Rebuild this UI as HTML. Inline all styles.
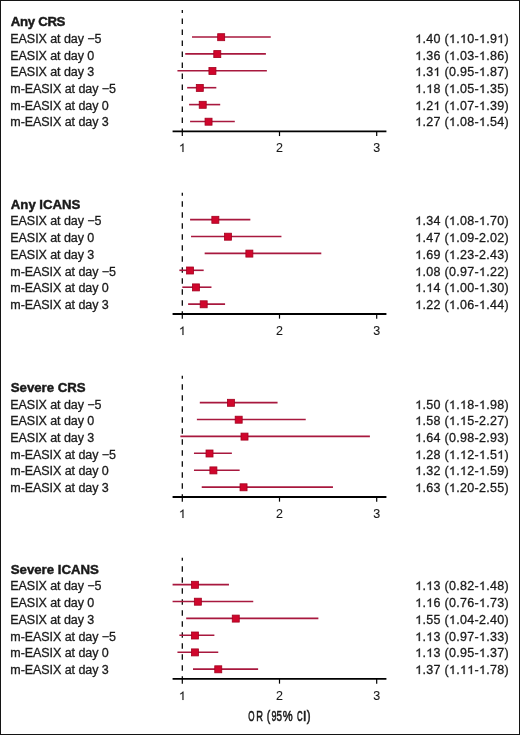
<!DOCTYPE html>
<html><head><meta charset="utf-8"><style>
html,body{margin:0;padding:0;background:#fff;}
body{width:520px;height:735px;overflow:hidden;}
svg{display:block;will-change:transform;}
text{font-family:"Liberation Sans",sans-serif;font-kerning:none;fill:#1a1a1a;stroke:#1a1a1a;stroke-width:0.3px;}
.l{font-size:12.5px;letter-spacing:-0.06px;}
.t{font-size:13.2px;font-weight:bold;stroke-width:0.45px;}
.n{font-size:12.5px;letter-spacing:0.3px;}
.o{fill:#1a1a1a;stroke:#1a1a1a;stroke-width:49.2;}
.h{fill:transparent;stroke:none;}
.k{stroke-width:0.1px;}
.ok{stroke-width:16.4;}
.or{font-size:15.5px;stroke-width:0.5px;vector-effect:non-scaling-stroke;}
</style></head><body>
<svg width="520" height="735" viewBox="0 0 520 735">
<defs><path id="one" d="M763 0H583V1098Q518 1038 413 979Q307 920 223 890V1057Q374 1124 487 1221Q600 1318 647 1409H763Z"/></defs>
<rect x="0.5" y="0.5" width="519" height="734" fill="#fff" stroke="#141414" stroke-width="1"/>

<text class="t" x="10.8" y="26.15" style="letter-spacing:-0.3px">Any CRS</text>
<line x1="182.30" y1="10.10" x2="182.30" y2="131.25" stroke="#000" stroke-width="1.25" stroke-dasharray="5.5 5.5" stroke-dashoffset="2.5"/>
<line x1="192.02" y1="37.00" x2="270.75" y2="37.00" stroke="#a8183e" stroke-width="1.6"/>
<rect x="217.68" y="33.70" width="7.00" height="7.00" fill="#d0062c" stroke="#a3001f" stroke-width="0.8"/>
<text class="l" x="10.3" y="43.00">EASIX at day −5</text>
<text class="n" x="415.2" y="43.00"><tspan class="h">1</tspan>.40 (<tspan class="h">1</tspan>.<tspan class="h">1</tspan>0-<tspan class="h">1</tspan>.9<tspan class="h">1</tspan>)</text>
<line x1="185.22" y1="53.90" x2="265.89" y2="53.90" stroke="#a8183e" stroke-width="1.6"/>
<rect x="213.79" y="50.60" width="7.00" height="7.00" fill="#d0062c" stroke="#a3001f" stroke-width="0.8"/>
<text class="l" x="10.3" y="60.00">EASIX at day 0</text>
<text class="n" x="415.2" y="60.00"><tspan class="h">1</tspan>.36 (<tspan class="h">1</tspan>.03-<tspan class="h">1</tspan>.86)</text>
<line x1="177.44" y1="70.80" x2="266.86" y2="70.80" stroke="#a8183e" stroke-width="1.6"/>
<rect x="208.93" y="67.50" width="7.00" height="7.00" fill="#d0062c" stroke="#a3001f" stroke-width="0.8"/>
<text class="l" x="10.3" y="76.00">EASIX at day 3</text>
<text class="n" x="415.2" y="76.00"><tspan class="h">1</tspan>.3<tspan class="h">1</tspan> (0.95-<tspan class="h">1</tspan>.87)</text>
<line x1="187.16" y1="87.70" x2="216.32" y2="87.70" stroke="#a8183e" stroke-width="1.6"/>
<rect x="196.30" y="84.40" width="7.00" height="7.00" fill="#d0062c" stroke="#a3001f" stroke-width="0.8"/>
<text class="l" x="10.3" y="93.00">m-EASIX at day −5</text>
<text class="n" x="415.2" y="93.00"><tspan class="h">1</tspan>.<tspan class="h">1</tspan>8 (<tspan class="h">1</tspan>.05-<tspan class="h">1</tspan>.35)</text>
<line x1="189.10" y1="104.60" x2="220.21" y2="104.60" stroke="#a8183e" stroke-width="1.6"/>
<rect x="199.21" y="101.30" width="7.00" height="7.00" fill="#d0062c" stroke="#a3001f" stroke-width="0.8"/>
<text class="l" x="10.3" y="110.00">m-EASIX at day 0</text>
<text class="n" x="415.2" y="110.00"><tspan class="h">1</tspan>.2<tspan class="h">1</tspan> (<tspan class="h">1</tspan>.07-<tspan class="h">1</tspan>.39)</text>
<line x1="190.08" y1="121.50" x2="234.79" y2="121.50" stroke="#a8183e" stroke-width="1.6"/>
<rect x="205.04" y="118.20" width="7.00" height="7.00" fill="#d0062c" stroke="#a3001f" stroke-width="0.8"/>
<text class="l" x="10.3" y="126.00">m-EASIX at day 3</text>
<text class="n" x="415.2" y="126.00"><tspan class="h">1</tspan>.27 (<tspan class="h">1</tspan>.08-<tspan class="h">1</tspan>.54)</text>
<line x1="172.58" y1="131.40" x2="386.42" y2="131.40" stroke="#000" stroke-width="1.9"/>
<line x1="182.30" y1="131.40" x2="182.30" y2="136.05" stroke="#000" stroke-width="1.2"/>
<text class="l k" x="182.30" y="152.25" text-anchor="middle"><tspan class="h">1</tspan></text>
<line x1="279.50" y1="131.40" x2="279.50" y2="136.05" stroke="#000" stroke-width="1.2"/>
<text class="l k" x="279.50" y="152.25" text-anchor="middle">2</text>
<line x1="376.70" y1="131.40" x2="376.70" y2="136.05" stroke="#000" stroke-width="1.2"/>
<text class="l k" x="376.70" y="152.25" text-anchor="middle">3</text>
<text class="t" x="10.8" y="208.75" style="letter-spacing:0px">Any ICANS</text>
<line x1="182.30" y1="192.70" x2="182.30" y2="313.85" stroke="#000" stroke-width="1.25" stroke-dasharray="5.5 5.5" stroke-dashoffset="2.5"/>
<line x1="190.08" y1="219.60" x2="250.34" y2="219.60" stroke="#a8183e" stroke-width="1.6"/>
<rect x="211.85" y="216.30" width="7.00" height="7.00" fill="#d0062c" stroke="#a3001f" stroke-width="0.8"/>
<text class="l" x="10.3" y="225.00">EASIX at day −5</text>
<text class="n" x="415.2" y="225.00"><tspan class="h">1</tspan>.34 (<tspan class="h">1</tspan>.08-<tspan class="h">1</tspan>.70)</text>
<line x1="191.05" y1="236.50" x2="281.44" y2="236.50" stroke="#a8183e" stroke-width="1.6"/>
<rect x="224.48" y="233.20" width="7.00" height="7.00" fill="#d0062c" stroke="#a3001f" stroke-width="0.8"/>
<text class="l" x="10.3" y="242.00">EASIX at day 0</text>
<text class="n" x="415.2" y="242.00"><tspan class="h">1</tspan>.47 (<tspan class="h">1</tspan>.09-2.02)</text>
<line x1="204.66" y1="253.40" x2="321.30" y2="253.40" stroke="#a8183e" stroke-width="1.6"/>
<rect x="245.87" y="250.10" width="7.00" height="7.00" fill="#d0062c" stroke="#a3001f" stroke-width="0.8"/>
<text class="l" x="10.3" y="259.00">EASIX at day 3</text>
<text class="n" x="415.2" y="259.00"><tspan class="h">1</tspan>.69 (<tspan class="h">1</tspan>.23-2.43)</text>
<line x1="179.38" y1="270.30" x2="203.68" y2="270.30" stroke="#a8183e" stroke-width="1.6"/>
<rect x="186.58" y="267.00" width="7.00" height="7.00" fill="#d0062c" stroke="#a3001f" stroke-width="0.8"/>
<text class="l" x="10.3" y="276.00">m-EASIX at day −5</text>
<text class="n" x="415.2" y="276.00"><tspan class="h">1</tspan>.08 (0.97-<tspan class="h">1</tspan>.22)</text>
<line x1="182.30" y1="287.20" x2="211.46" y2="287.20" stroke="#a8183e" stroke-width="1.6"/>
<rect x="192.41" y="283.90" width="7.00" height="7.00" fill="#d0062c" stroke="#a3001f" stroke-width="0.8"/>
<text class="l" x="10.3" y="292.00">m-EASIX at day 0</text>
<text class="n" x="415.2" y="292.00"><tspan class="h">1</tspan>.<tspan class="h">1</tspan>4 (<tspan class="h">1</tspan>.00-<tspan class="h">1</tspan>.30)</text>
<line x1="188.13" y1="304.10" x2="225.07" y2="304.10" stroke="#a8183e" stroke-width="1.6"/>
<rect x="200.18" y="300.80" width="7.00" height="7.00" fill="#d0062c" stroke="#a3001f" stroke-width="0.8"/>
<text class="l" x="10.3" y="309.00">m-EASIX at day 3</text>
<text class="n" x="415.2" y="309.00"><tspan class="h">1</tspan>.22 (<tspan class="h">1</tspan>.06-<tspan class="h">1</tspan>.44)</text>
<line x1="172.58" y1="314.05" x2="386.42" y2="314.05" stroke="#000" stroke-width="1.9"/>
<line x1="182.30" y1="314.05" x2="182.30" y2="318.65" stroke="#000" stroke-width="1.2"/>
<text class="l k" x="182.30" y="334.85" text-anchor="middle"><tspan class="h">1</tspan></text>
<line x1="279.50" y1="314.05" x2="279.50" y2="318.65" stroke="#000" stroke-width="1.2"/>
<text class="l k" x="279.50" y="334.85" text-anchor="middle">2</text>
<line x1="376.70" y1="314.05" x2="376.70" y2="318.65" stroke="#000" stroke-width="1.2"/>
<text class="l k" x="376.70" y="334.85" text-anchor="middle">3</text>
<text class="t" x="10.8" y="391.75" style="letter-spacing:0px">Severe CRS</text>
<line x1="182.30" y1="375.70" x2="182.30" y2="496.85" stroke="#000" stroke-width="1.25" stroke-dasharray="5.5 5.5" stroke-dashoffset="2.5"/>
<line x1="199.80" y1="402.60" x2="277.56" y2="402.60" stroke="#a8183e" stroke-width="1.6"/>
<rect x="227.40" y="399.30" width="7.00" height="7.00" fill="#d0062c" stroke="#a3001f" stroke-width="0.8"/>
<text class="l" x="10.3" y="409.00">EASIX at day −5</text>
<text class="n" x="415.2" y="409.00"><tspan class="h">1</tspan>.50 (<tspan class="h">1</tspan>.<tspan class="h">1</tspan>8-<tspan class="h">1</tspan>.98)</text>
<line x1="196.88" y1="419.50" x2="305.74" y2="419.50" stroke="#a8183e" stroke-width="1.6"/>
<rect x="235.18" y="416.20" width="7.00" height="7.00" fill="#d0062c" stroke="#a3001f" stroke-width="0.8"/>
<text class="l" x="10.3" y="425.00">EASIX at day 0</text>
<text class="n" x="415.2" y="425.00"><tspan class="h">1</tspan>.58 (<tspan class="h">1</tspan>.<tspan class="h">1</tspan>5-2.27)</text>
<line x1="180.36" y1="436.40" x2="369.90" y2="436.40" stroke="#a8183e" stroke-width="1.6"/>
<rect x="241.01" y="433.10" width="7.00" height="7.00" fill="#d0062c" stroke="#a3001f" stroke-width="0.8"/>
<text class="l" x="10.3" y="442.00">EASIX at day 3</text>
<text class="n" x="415.2" y="442.00"><tspan class="h">1</tspan>.64 (0.98-2.93)</text>
<line x1="193.96" y1="453.30" x2="231.87" y2="453.30" stroke="#a8183e" stroke-width="1.6"/>
<rect x="206.02" y="450.00" width="7.00" height="7.00" fill="#d0062c" stroke="#a3001f" stroke-width="0.8"/>
<text class="l" x="10.3" y="459.00">m-EASIX at day −5</text>
<text class="n" x="415.2" y="459.00"><tspan class="h">1</tspan>.28 (<tspan class="h">1</tspan>.<tspan class="h">1</tspan>2-<tspan class="h">1</tspan>.5<tspan class="h">1</tspan>)</text>
<line x1="193.96" y1="470.20" x2="239.65" y2="470.20" stroke="#a8183e" stroke-width="1.6"/>
<rect x="209.90" y="466.90" width="7.00" height="7.00" fill="#d0062c" stroke="#a3001f" stroke-width="0.8"/>
<text class="l" x="10.3" y="475.00">m-EASIX at day 0</text>
<text class="n" x="415.2" y="475.00"><tspan class="h">1</tspan>.32 (<tspan class="h">1</tspan>.<tspan class="h">1</tspan>2-<tspan class="h">1</tspan>.59)</text>
<line x1="201.74" y1="487.10" x2="332.96" y2="487.10" stroke="#a8183e" stroke-width="1.6"/>
<rect x="240.04" y="483.80" width="7.00" height="7.00" fill="#d0062c" stroke="#a3001f" stroke-width="0.8"/>
<text class="l" x="10.3" y="492.00">m-EASIX at day 3</text>
<text class="n" x="415.2" y="492.00"><tspan class="h">1</tspan>.63 (<tspan class="h">1</tspan>.20-2.55)</text>
<line x1="172.58" y1="497.00" x2="386.42" y2="497.00" stroke="#000" stroke-width="1.9"/>
<line x1="182.30" y1="497.00" x2="182.30" y2="501.65" stroke="#000" stroke-width="1.2"/>
<text class="l k" x="182.30" y="517.85" text-anchor="middle"><tspan class="h">1</tspan></text>
<line x1="279.50" y1="497.00" x2="279.50" y2="501.65" stroke="#000" stroke-width="1.2"/>
<text class="l k" x="279.50" y="517.85" text-anchor="middle">2</text>
<line x1="376.70" y1="497.00" x2="376.70" y2="501.65" stroke="#000" stroke-width="1.2"/>
<text class="l k" x="376.70" y="517.85" text-anchor="middle">3</text>
<text class="t" x="10.8" y="573.75" style="letter-spacing:0px">Severe ICANS</text>
<line x1="182.30" y1="557.70" x2="182.30" y2="678.85" stroke="#000" stroke-width="1.25" stroke-dasharray="5.5 5.5" stroke-dashoffset="2.5"/>
<line x1="172.58" y1="584.60" x2="228.96" y2="584.60" stroke="#a8183e" stroke-width="1.6"/>
<rect x="191.44" y="581.30" width="7.00" height="7.00" fill="#d0062c" stroke="#a3001f" stroke-width="0.8"/>
<text class="l" x="10.3" y="590.00">EASIX at day −5</text>
<text class="n" x="415.2" y="590.00"><tspan class="h">1</tspan>.<tspan class="h">1</tspan>3 (0.82-<tspan class="h">1</tspan>.48)</text>
<line x1="172.58" y1="601.50" x2="253.26" y2="601.50" stroke="#a8183e" stroke-width="1.6"/>
<rect x="194.35" y="598.20" width="7.00" height="7.00" fill="#d0062c" stroke="#a3001f" stroke-width="0.8"/>
<text class="l" x="10.3" y="607.00">EASIX at day 0</text>
<text class="n" x="415.2" y="607.00"><tspan class="h">1</tspan>.<tspan class="h">1</tspan>6 (0.76-<tspan class="h">1</tspan>.73)</text>
<line x1="186.19" y1="618.40" x2="318.38" y2="618.40" stroke="#a8183e" stroke-width="1.6"/>
<rect x="232.26" y="615.10" width="7.00" height="7.00" fill="#d0062c" stroke="#a3001f" stroke-width="0.8"/>
<text class="l" x="10.3" y="624.00">EASIX at day 3</text>
<text class="n" x="415.2" y="624.00"><tspan class="h">1</tspan>.55 (<tspan class="h">1</tspan>.04-2.40)</text>
<line x1="179.38" y1="635.30" x2="214.38" y2="635.30" stroke="#a8183e" stroke-width="1.6"/>
<rect x="191.44" y="632.00" width="7.00" height="7.00" fill="#d0062c" stroke="#a3001f" stroke-width="0.8"/>
<text class="l" x="10.3" y="641.00">m-EASIX at day −5</text>
<text class="n" x="415.2" y="641.00"><tspan class="h">1</tspan>.<tspan class="h">1</tspan>3 (0.97-<tspan class="h">1</tspan>.33)</text>
<line x1="177.44" y1="652.20" x2="218.26" y2="652.20" stroke="#a8183e" stroke-width="1.6"/>
<rect x="191.44" y="648.90" width="7.00" height="7.00" fill="#d0062c" stroke="#a3001f" stroke-width="0.8"/>
<text class="l" x="10.3" y="657.00">m-EASIX at day 0</text>
<text class="n" x="415.2" y="657.00"><tspan class="h">1</tspan>.<tspan class="h">1</tspan>3 (0.95-<tspan class="h">1</tspan>.37)</text>
<line x1="192.99" y1="669.10" x2="258.12" y2="669.10" stroke="#a8183e" stroke-width="1.6"/>
<rect x="214.76" y="665.80" width="7.00" height="7.00" fill="#d0062c" stroke="#a3001f" stroke-width="0.8"/>
<text class="l" x="10.3" y="674.00">m-EASIX at day 3</text>
<text class="n" x="415.2" y="674.00"><tspan class="h">1</tspan>.37 (<tspan class="h">1</tspan>.<tspan class="h">1</tspan><tspan class="h">1</tspan>-<tspan class="h">1</tspan>.78)</text>
<line x1="172.58" y1="678.90" x2="386.42" y2="678.90" stroke="#000" stroke-width="1.9"/>
<line x1="182.30" y1="678.90" x2="182.30" y2="683.65" stroke="#000" stroke-width="1.2"/>
<text class="l k" x="182.30" y="699.85" text-anchor="middle"><tspan class="h">1</tspan></text>
<line x1="279.50" y1="678.90" x2="279.50" y2="683.65" stroke="#000" stroke-width="1.2"/>
<text class="l k" x="279.50" y="699.85" text-anchor="middle">2</text>
<line x1="376.70" y1="678.90" x2="376.70" y2="683.65" stroke="#000" stroke-width="1.2"/>
<text class="l k" x="376.70" y="699.85" text-anchor="middle">3</text>
<text class="or" x="0" y="0" text-anchor="middle" transform="translate(251.3 721.4) scale(0.52 1)">O</text>
<text class="or" x="0" y="0" text-anchor="middle" transform="translate(259.5 721.4) scale(0.6 1)">R</text>
<text class="or" x="0" y="0" text-anchor="middle" transform="translate(268.6 721.4) scale(0.68 1)">(</text>
<text class="or" x="0" y="0" text-anchor="middle" transform="translate(273.9 721.4) scale(0.58 1)">9</text>
<text class="or" x="0" y="0" text-anchor="middle" transform="translate(279.3 721.4) scale(0.64 1)">5</text>
<text class="or" x="0" y="0" text-anchor="middle" transform="translate(287.8 721.4) scale(0.72 1)">%</text>
<text class="or" x="0" y="0" text-anchor="middle" transform="translate(299.9 721.4) scale(0.5 1)">C</text>
<text class="or" x="0" y="0" text-anchor="middle" transform="translate(304.7 721.4) scale(0.9 1)">I</text>
<text class="or" x="0" y="0" text-anchor="middle" transform="translate(308.6 721.4) scale(0.74 1)">)</text>
<use href="#one" class="o" transform="translate(415.20 43) scale(0.006104 -0.006104)"/>
<use href="#one" class="o" transform="translate(448.95 43) scale(0.006104 -0.006104)"/>
<use href="#one" class="o" transform="translate(459.98 43) scale(0.006104 -0.006104)"/>
<use href="#one" class="o" transform="translate(478.95 43) scale(0.006104 -0.006104)"/>
<use href="#one" class="o" transform="translate(497.23 43) scale(0.006104 -0.006104)"/>
<use href="#one" class="o" transform="translate(415.20 60) scale(0.006104 -0.006104)"/>
<use href="#one" class="o" transform="translate(448.95 60) scale(0.006104 -0.006104)"/>
<use href="#one" class="o" transform="translate(478.95 60) scale(0.006104 -0.006104)"/>
<use href="#one" class="o" transform="translate(415.20 76) scale(0.006104 -0.006104)"/>
<use href="#one" class="o" transform="translate(433.47 76) scale(0.006104 -0.006104)"/>
<use href="#one" class="o" transform="translate(478.95 76) scale(0.006104 -0.006104)"/>
<use href="#one" class="o" transform="translate(415.20 93) scale(0.006104 -0.006104)"/>
<use href="#one" class="o" transform="translate(426.22 93) scale(0.006104 -0.006104)"/>
<use href="#one" class="o" transform="translate(448.95 93) scale(0.006104 -0.006104)"/>
<use href="#one" class="o" transform="translate(478.95 93) scale(0.006104 -0.006104)"/>
<use href="#one" class="o" transform="translate(415.20 110) scale(0.006104 -0.006104)"/>
<use href="#one" class="o" transform="translate(433.47 110) scale(0.006104 -0.006104)"/>
<use href="#one" class="o" transform="translate(448.95 110) scale(0.006104 -0.006104)"/>
<use href="#one" class="o" transform="translate(478.95 110) scale(0.006104 -0.006104)"/>
<use href="#one" class="o" transform="translate(415.20 126) scale(0.006104 -0.006104)"/>
<use href="#one" class="o" transform="translate(448.95 126) scale(0.006104 -0.006104)"/>
<use href="#one" class="o" transform="translate(478.95 126) scale(0.006104 -0.006104)"/>
<use href="#one" class="o ok" transform="translate(178.85 152) scale(0.006104 -0.006104)"/>
<use href="#one" class="o" transform="translate(415.20 225) scale(0.006104 -0.006104)"/>
<use href="#one" class="o" transform="translate(448.95 225) scale(0.006104 -0.006104)"/>
<use href="#one" class="o" transform="translate(478.95 225) scale(0.006104 -0.006104)"/>
<use href="#one" class="o" transform="translate(415.20 242) scale(0.006104 -0.006104)"/>
<use href="#one" class="o" transform="translate(448.95 242) scale(0.006104 -0.006104)"/>
<use href="#one" class="o" transform="translate(415.20 259) scale(0.006104 -0.006104)"/>
<use href="#one" class="o" transform="translate(448.95 259) scale(0.006104 -0.006104)"/>
<use href="#one" class="o" transform="translate(415.20 276) scale(0.006104 -0.006104)"/>
<use href="#one" class="o" transform="translate(478.95 276) scale(0.006104 -0.006104)"/>
<use href="#one" class="o" transform="translate(415.20 292) scale(0.006104 -0.006104)"/>
<use href="#one" class="o" transform="translate(426.22 292) scale(0.006104 -0.006104)"/>
<use href="#one" class="o" transform="translate(448.95 292) scale(0.006104 -0.006104)"/>
<use href="#one" class="o" transform="translate(478.95 292) scale(0.006104 -0.006104)"/>
<use href="#one" class="o" transform="translate(415.20 309) scale(0.006104 -0.006104)"/>
<use href="#one" class="o" transform="translate(448.95 309) scale(0.006104 -0.006104)"/>
<use href="#one" class="o" transform="translate(478.95 309) scale(0.006104 -0.006104)"/>
<use href="#one" class="o ok" transform="translate(178.85 335) scale(0.006104 -0.006104)"/>
<use href="#one" class="o" transform="translate(415.20 409) scale(0.006104 -0.006104)"/>
<use href="#one" class="o" transform="translate(448.95 409) scale(0.006104 -0.006104)"/>
<use href="#one" class="o" transform="translate(459.98 409) scale(0.006104 -0.006104)"/>
<use href="#one" class="o" transform="translate(478.95 409) scale(0.006104 -0.006104)"/>
<use href="#one" class="o" transform="translate(415.20 425) scale(0.006104 -0.006104)"/>
<use href="#one" class="o" transform="translate(448.95 425) scale(0.006104 -0.006104)"/>
<use href="#one" class="o" transform="translate(459.98 425) scale(0.006104 -0.006104)"/>
<use href="#one" class="o" transform="translate(415.20 442) scale(0.006104 -0.006104)"/>
<use href="#one" class="o" transform="translate(415.20 459) scale(0.006104 -0.006104)"/>
<use href="#one" class="o" transform="translate(448.95 459) scale(0.006104 -0.006104)"/>
<use href="#one" class="o" transform="translate(459.98 459) scale(0.006104 -0.006104)"/>
<use href="#one" class="o" transform="translate(478.95 459) scale(0.006104 -0.006104)"/>
<use href="#one" class="o" transform="translate(497.23 459) scale(0.006104 -0.006104)"/>
<use href="#one" class="o" transform="translate(415.20 475) scale(0.006104 -0.006104)"/>
<use href="#one" class="o" transform="translate(448.95 475) scale(0.006104 -0.006104)"/>
<use href="#one" class="o" transform="translate(459.98 475) scale(0.006104 -0.006104)"/>
<use href="#one" class="o" transform="translate(478.95 475) scale(0.006104 -0.006104)"/>
<use href="#one" class="o" transform="translate(415.20 492) scale(0.006104 -0.006104)"/>
<use href="#one" class="o" transform="translate(448.95 492) scale(0.006104 -0.006104)"/>
<use href="#one" class="o ok" transform="translate(178.85 518) scale(0.006104 -0.006104)"/>
<use href="#one" class="o" transform="translate(415.20 590) scale(0.006104 -0.006104)"/>
<use href="#one" class="o" transform="translate(426.22 590) scale(0.006104 -0.006104)"/>
<use href="#one" class="o" transform="translate(478.95 590) scale(0.006104 -0.006104)"/>
<use href="#one" class="o" transform="translate(415.20 607) scale(0.006104 -0.006104)"/>
<use href="#one" class="o" transform="translate(426.22 607) scale(0.006104 -0.006104)"/>
<use href="#one" class="o" transform="translate(478.95 607) scale(0.006104 -0.006104)"/>
<use href="#one" class="o" transform="translate(415.20 624) scale(0.006104 -0.006104)"/>
<use href="#one" class="o" transform="translate(448.95 624) scale(0.006104 -0.006104)"/>
<use href="#one" class="o" transform="translate(415.20 641) scale(0.006104 -0.006104)"/>
<use href="#one" class="o" transform="translate(426.22 641) scale(0.006104 -0.006104)"/>
<use href="#one" class="o" transform="translate(478.95 641) scale(0.006104 -0.006104)"/>
<use href="#one" class="o" transform="translate(415.20 657) scale(0.006104 -0.006104)"/>
<use href="#one" class="o" transform="translate(426.22 657) scale(0.006104 -0.006104)"/>
<use href="#one" class="o" transform="translate(478.95 657) scale(0.006104 -0.006104)"/>
<use href="#one" class="o" transform="translate(415.20 674) scale(0.006104 -0.006104)"/>
<use href="#one" class="o" transform="translate(448.95 674) scale(0.006104 -0.006104)"/>
<use href="#one" class="o" transform="translate(459.98 674) scale(0.006104 -0.006104)"/>
<use href="#one" class="o" transform="translate(467.23 674) scale(0.006104 -0.006104)"/>
<use href="#one" class="o" transform="translate(478.95 674) scale(0.006104 -0.006104)"/>
<use href="#one" class="o ok" transform="translate(178.85 700) scale(0.006104 -0.006104)"/>
</svg>
</body></html>
